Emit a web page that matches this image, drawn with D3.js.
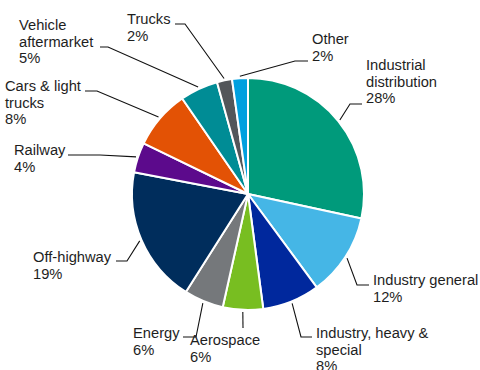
<!DOCTYPE html>
<html>
<head>
<meta charset="utf-8">
<script src="https://cdn.jsdelivr.net/npm/d3@7"></script>
<style>
  html, body { margin: 0; padding: 0; background: #fff; }
  svg text { font-family: "Liberation Sans", Arial, sans-serif; font-size: 14.7px; fill: #1e1e1e; }
</style>
</head>
<body>
<svg id="chart" width="480" height="370"></svg>
<script>
/* -------------------- DATA -------------------- */
const categories = ["Industrial distribution", "Industry general", "Industry, heavy & special",
  "Aerospace", "Energy", "Off-highway", "Railway", "Cars & light trucks",
  "Vehicle aftermarket", "Trucks", "Other"];
// slice shares as measured from the slice angles
const values = [28.4, 11.5, 8.0, 5.6, 5.5, 19.0, 4.2, 8.2, 5.3, 2.1, 2.2];
// percentages as printed on the labels
const pctLabels = ["28%", "12%", "8%", "6%", "6%", "19%", "4%", "8%", "5%", "2%", "2%"];
const labelLines = [
  ["Industrial", "distribution"], ["Industry general"], ["Industry, heavy &", "special"],
  ["Aerospace"], ["Energy"], ["Off-highway"], ["Railway"], ["Cars & light", "trucks"],
  ["Vehicle", "aftermarket"], ["Trucks"], ["Other"]
];
const colors = ["#009A7B", "#45B6E6", "#00289D", "#78BE21", "#75787B", "#002D5C",
  "#5C0A8C", "#E35205", "#008C95", "#53565A", "#00A0DF"];

/* -------------------- LAYOUT -------------------- */
const CX = 248, CY = 194, R = 116, LH = 16.5;
// text position (x, first baseline), leader elbow (ex, ey), horizontal end hx
const labelPos = [
  {x: 366, y: 70,  ex: 350, ey: 104, hx: 362},
  {x: 373, y: 285, ex: 357, ey: 285, hx: 369},
  {x: 316, y: 338, ex: 301, ey: 337, hx: 312},
  {x: 190, y: 345, ex: 243, ey: 328, hx: 243},
  {x: 133, y: 338, ex: 196, ey: 337, hx: 183},
  {x: 33,  y: 262, ex: 127, ey: 261, hx: 116},
  {x: 14,  y: 155, ex: 100, ey: 155, hx: 68},
  {x: 5,   y: 91,  ex: 97,  ey: 91,  hx: 85},
  {x: 19,  y: 30,  ex: 108, ey: 47,  hx: 100},
  {x: 127, y: 24,  ex: 185, ey: 24,  hx: 175},
  {x: 312, y: 44,  ex: 295, ey: 61,  hx: 308}
];

const rows = categories.map((c, i) => ({name: c, value: values[i], i}));

const svg = d3.select("#chart");
const g = svg.append("g").attr("transform", `translate(${CX},${CY})`);

const pie = d3.pie().value(d => d.value).sort(null);
const arc = d3.arc().innerRadius(0).outerRadius(R);
const arcs = pie(rows);

g.selectAll("path.slice")
  .data(arcs)
  .join("path")
  .attr("class", "slice")
  .attr("d", arc)
  .attr("fill", d => colors[d.data.i])
  .attr("stroke", "#fff")
  .attr("stroke-width", 2)
  .attr("stroke-linejoin", "round");

/* leader lines */
const leader = d => {
  const a = (d.startAngle + d.endAngle) / 2;
  const sx = CX + Math.sin(a) * (R + 2), sy = CY - Math.cos(a) * (R + 2);
  const p = labelPos[d.data.i];
  return `M${sx},${sy}L${p.ex},${p.ey}L${p.hx},${p.ey}`;
};
svg.selectAll("path.leader")
  .data(arcs)
  .join("path")
  .attr("class", "leader")
  .attr("d", leader)
  .attr("fill", "none")
  .attr("stroke", "#111")
  .attr("stroke-width", 1.1);

/* labels */
const lab = svg.selectAll("text.lab")
  .data(arcs)
  .join("text")
  .attr("class", "lab")
  .attr("x", d => labelPos[d.data.i].x)
  .attr("y", d => labelPos[d.data.i].y);

lab.each(function(d) {
  const t = d3.select(this);
  const lines = labelLines[d.data.i].concat([pctLabels[d.data.i]]);
  lines.forEach((s, k) => {
    t.append("tspan")
      .attr("x", labelPos[d.data.i].x)
      .attr("dy", k === 0 ? 0 : LH)
      .text(s);
  });
});
</script>
</body>
</html>
